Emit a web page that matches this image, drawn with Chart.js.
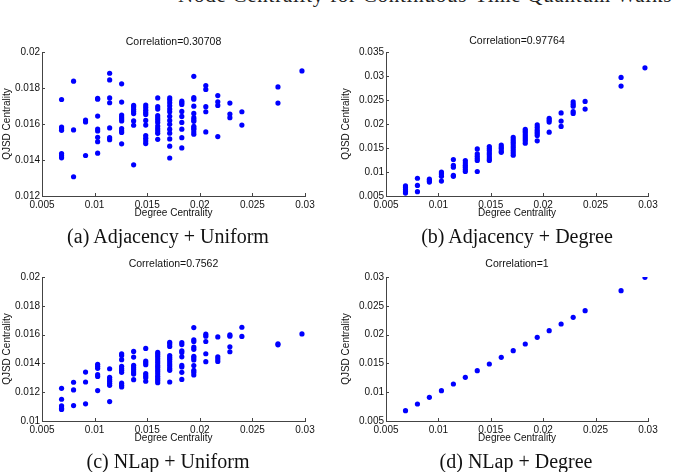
<!DOCTYPE html>
<html><head><meta charset="utf-8">
<script src="https://cdn.jsdelivr.net/npm/chart.js@4.4.1/dist/chart.umd.min.js"></script>
<style>
html,body{margin:0;padding:0;background:#fff;}
#page{position:relative;width:675px;height:472px;overflow:hidden;background:#fff;}
.cv{position:absolute;}
.cap{position:absolute;font-family:"Liberation Serif","DejaVu Serif",serif;font-size:20px;color:#111;white-space:nowrap;transform:translate(-50%,-50%);}
#mainTitle{position:absolute;left:178px;top:-17px;font-family:"Liberation Serif",serif;font-size:21px;letter-spacing:0.75px;color:#222;white-space:nowrap;}
</style></head>
<body><div id="page">
<div id="mainTitle">Node Centrality for Continuous-Time Quantum Walks</div>
<canvas id="ca" class="cv"></canvas>
<canvas id="cb" class="cv"></canvas>
<canvas id="cc" class="cv"></canvas>
<canvas id="cd" class="cv"></canvas>
<div class="cap" style="left:168px;top:236px">(a) Adjacency + Uniform</div>
<div class="cap" style="left:517px;top:236px">(b) Adjacency + Degree</div>
<div class="cap" style="left:168px;top:461px">(c) NLap + Uniform</div>
<div class="cap" style="left:516px;top:461px">(d) NLap + Degree</div>
</div>
<script>
// Degree centrality values (x columns)
const degreeCols = [0.00686,0.00800,0.00914,0.01029,0.01143,0.01257,0.01371,0.01486,0.01600,0.01714,0.01829,0.01943,0.02057,0.02171,0.02286,0.02400,0.02743,0.02971];

// (a) Adjacency + Uniform : QJSD values per degree column
const adjUniform = [
 [0.01736,0.01583,0.01574,0.01565,0.01436,0.01424,0.01412],
 [0.01838,0.01567,0.01307],
 [0.01622,0.01611,0.01425],
 [0.01742,0.01738,0.01644,0.01572,0.01561,0.01526,0.01502,0.01438],
 [0.01882,0.01845,0.01745,0.01718,0.01578,0.01524,0.01513],
 [0.01823,0.01722,0.01650,0.01639,0.01628,0.01617,0.01575,0.01562,0.01553,0.01490],
 [0.01703,0.01694,0.01682,0.01670,0.01658,0.01617,0.01593,0.01373],
 [0.01705,0.01692,0.01677,0.01664,0.01653,0.01620,0.01594,0.01536,0.01521,0.01506,0.01491],
 [0.01745,0.01696,0.01683,0.01646,0.01633,0.01622,0.01609,0.01589,0.01574,0.01561,0.01548,0.01515],
 [0.01745,0.01733,0.01718,0.01701,0.01683,0.01668,0.01643,0.01620,0.01598,0.01571,0.01549,0.01517,0.01477,0.01411],
 [0.01727,0.01718,0.01709,0.01670,0.01642,0.01609,0.01571,0.01524,0.01467],
 [0.01865,0.01747,0.01738,0.01699,0.01659,0.01635,0.01624,0.01615,0.01587,0.01578,0.01571,0.01556,0.01543],
 [0.01814,0.01792,0.01696,0.01668,0.01556],
 [0.01758,0.01723,0.01703,0.01530],
 [0.01716,0.01655,0.01635],
 [0.01668,0.01594],
 [0.01806,0.01716],
 [0.01895]
];

// (b) Adjacency + Degree
const adjDegree = [
 [0.0071,0.0067,0.0063,0.0059,0.0056],
 [0.0087,0.0072,0.0059],
 [0.0085,0.0082,0.0079],
 [0.0100,0.0096,0.0091,0.0081],
 [0.0126,0.0114,0.0110,0.0093,0.0091],
 [0.0124,0.0119,0.0114,0.0110,0.0105,0.0101],
 [0.0148,0.0138,0.0133,0.0128,0.0124,0.0101],
 [0.0153,0.0149,0.0145,0.0140,0.0136,0.0131,0.0127,0.0124],
 [0.0156,0.0152,0.0149,0.0144,0.0141],
 [0.0172,0.0167,0.0163,0.0159,0.0154,0.0150,0.0145,0.0140,0.0135],
 [0.0189,0.0185,0.0181,0.0177,0.0173,0.0169,0.0165,0.0160],
 [0.0198,0.0193,0.0188,0.0184,0.0180,0.0176,0.0165],
 [0.0212,0.0208,0.0204,0.0183],
 [0.0223,0.0206,0.0195],
 [0.0246,0.0241,0.0237,0.0226,0.0222],
 [0.0247,0.0231],
 [0.0297,0.0279],
 [0.0317]
];

// (c) NLap + Uniform
const nlapUniform = [
 [0.01227,0.01151,0.01105,0.01089,0.01080],
 [0.01269,0.01216,0.01107],
 [0.01340,0.01271,0.01119],
 [0.01394,0.01380,0.01366,0.01322,0.01309,0.01211],
 [0.01363,0.01303,0.01289,0.01276,0.01262,0.01248,0.01135],
 [0.01467,0.01455,0.01426,0.01380,0.01364,0.01352,0.01338,0.01263,0.01248,0.01236],
 [0.01483,0.01444,0.01386,0.01370,0.01356,0.01340,0.01326,0.01287],
 [0.01504,0.01416,0.01405,0.01391,0.01329,0.01315,0.01301,0.01276],
 [0.01476,0.01462,0.01448,0.01432,0.01416,0.01402,0.01386,0.01372,0.01356,0.01342,0.01326,0.01310,0.01296,0.01282,0.01266],
 [0.01547,0.01534,0.01518,0.01455,0.01441,0.01428,0.01412,0.01395,0.01382,0.01365,0.01352,0.01271],
 [0.01545,0.01531,0.01488,0.01476,0.01446,0.01386,0.01375,0.01338,0.01289],
 [0.01649,0.01564,0.01552,0.01513,0.01498,0.01449,0.01438,0.01424,0.01385,0.01352,0.01339,0.01320],
 [0.01603,0.01589,0.01552,0.01467,0.01412],
 [0.01584,0.01446,0.01430,0.01414],
 [0.01598,0.01589,0.01515,0.01481],
 [0.01651,0.01587],
 [0.01536,0.01529],
 [0.01605]
];

// (d) NLap + Degree
const nlapDegree = [
 [0.00679],[0.00795],[0.00911],[0.01027],[0.01142],[0.01258],[0.01374],[0.01490],[0.01605],
 [0.01721],[0.01837],[0.01953],[0.02068],[0.02184],[0.02300],[0.02416],[0.02763],[0.02994]
];

// Tick values
const xTickVals = [0.005,0.01,0.015,0.02,0.025,0.03];
const yTicksA = [0.012,0.014,0.016,0.018,0.02];
const yTicksB = [0.005,0.01,0.015,0.02,0.025,0.03,0.035];
const yTicksC = [0.01,0.012,0.014,0.016,0.018,0.02];
const yTicksD = [0.005,0.01,0.015,0.02,0.025,0.03];

const titles = ['Correlation=0.30708','Correlation=0.97764','Correlation=0.7562','Correlation=1'];
const xAxisTitle = 'Degree Centrality';
const yAxisTitle = 'QJSD Centrality';

function toPoints(cols){
  const pts=[];
  cols.forEach((ys,i)=>ys.forEach(v=>pts.push({x:degreeCols[i],y:v})));
  return pts;
}

const inwardTicks = {
  id:'inwardTicks',
  afterDraw(chart){
    const {ctx, chartArea:{left,bottom}, scales:{x,y}} = chart;
    ctx.save();
    ctx.strokeStyle='#444'; ctx.lineWidth=1;
    ctx.beginPath();
    x.ticks.forEach(t=>{const px=Math.round(x.getPixelForValue(t.value))+0.5; ctx.moveTo(px,bottom); ctx.lineTo(px,bottom-3);});
    y.ticks.forEach(t=>{const py=Math.round(y.getPixelForValue(t.value))+0.5; ctx.moveTo(left,py); ctx.lineTo(left+3,py);});
    ctx.stroke();
    ctx.restore();
  }
};

const SANS = '"Liberation Sans", Arial, Helvetica, sans-serif';
const fmt = v => String(+Number(v).toFixed(4));

function makeChart(id, box, area, title, titleCY, xTitleCY, yTitleCX, xr, yr, yTicks, pts){
  const cv = document.getElementById(id);
  cv.style.left = box.left+'px'; cv.style.top = box.top+'px';
  cv.width = box.width; cv.height = box.height;
  cv.style.width = box.width+'px'; cv.style.height = box.height+'px';
  const tFont = 10.5, tLH = tFont*1.2;
  const titleH = area.top - box.top;
  const tPadTop = (titleCY - box.top) - tLH/2;
  const tPadBot = titleH - tLH - tPadTop;
  const xH = box.top + box.height - area.bottom;
  const yW = area.left - box.left;
  const axLH = 12;
  const xTitlePadBot = (box.top + box.height) - xTitleCY - axLH/2;
  const yTitlePadTop = yTitleCX - box.left - axLH/2;
  new Chart(cv, {
    type:'scatter',
    data:{datasets:[{data:pts, pointRadius:2.6, pointHoverRadius:2.6, pointBackgroundColor:'#0000ff', pointBorderWidth:0, borderWidth:0, showLine:false}]},
    options:{
      responsive:false, animation:false, devicePixelRatio:1,
      layout:{padding:{left:0, top:0, bottom:0, right: box.left + box.width - area.right}},
      plugins:{
        legend:{display:false}, tooltip:{enabled:false},
        title:{display:true, text:title, fullSize:false, color:'#111', font:{family:SANS, size:tFont, weight:'normal'}, padding:{top:tPadTop, bottom:tPadBot}}
      },
      scales:{
        x:{type:'linear', min:xr[0], max:xr[1],
           afterBuildTicks: s => { s.ticks = xTickVals.map(v=>({value:v})); },
           afterFit: s => { s.height = xH; },
           grid:{display:false, drawTicks:false}, border:{display:true, color:'#444', width:1},
           ticks:{color:'#111', font:{family:SANS, size:10}, padding:3, maxRotation:0, autoSkip:false, callback: v => fmt(v)},
           title:{display:true, text:xAxisTitle, color:'#111', font:{family:SANS, size:10}, padding:{top:0, bottom:xTitlePadBot}}
        },
        y:{type:'linear', min:yr[0], max:yr[1],
           afterBuildTicks: s => { s.ticks = yTicks.map(v=>({value:v})); },
           afterFit: s => { s.width = yW; },
           grid:{display:false, drawTicks:false}, border:{display:true, color:'#444', width:1},
           ticks:{color:'#111', font:{family:SANS, size:10}, padding:2, autoSkip:false, callback: v => fmt(v)},
           title:{display:true, text:yAxisTitle, color:'#111', font:{family:SANS, size:10}, padding:{top:yTitlePadTop, bottom:0}}
        }
      }
    },
    plugins:[inwardTicks]
  });
}

makeChart('ca', {left:0, top:30, width:330, height:195}, {left:42, right:305, top:52, bottom:196}, titles[0], 41.7, 213, 7, [0.005,0.03], [0.012,0.02], yTicksA, toPoints(adjUniform));
makeChart('cb', {left:339, top:30, width:336, height:195}, {left:386, right:648, top:52, bottom:196}, titles[1], 41.5, 213, 346, [0.005,0.03], [0.005,0.035], yTicksB, toPoints(adjDegree));
makeChart('cc', {left:0, top:250, width:330, height:200}, {left:42, right:305, top:277, bottom:421}, titles[2], 264.3, 438, 7, [0.005,0.03], [0.01,0.02], yTicksC, toPoints(nlapUniform));
makeChart('cd', {left:339, top:250, width:336, height:200}, {left:386, right:648, top:277, bottom:421}, titles[3], 264.3, 438, 346, [0.005,0.03], [0.005,0.03], yTicksD, toPoints(nlapDegree));
</script>
</body></html>
